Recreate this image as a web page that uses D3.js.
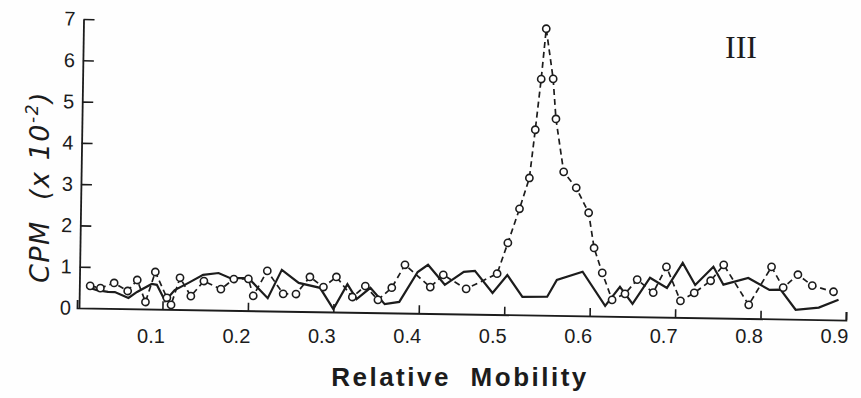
<!DOCTYPE html>
<html><head><meta charset="utf-8">
<script src="https://cdn.jsdelivr.net/npm/d3@7"></script>
<style>html,body{margin:0;padding:0;background:#fff}</style>
</head><body><svg id="c" width="861" height="398"></svg>
<script>
// Solid line (no markers)
const solidX = [0.011,0.023,0.036,0.044,0.060,0.070,0.087,0.093,0.103,0.114,0.130,0.147,0.165,0.179,0.200,0.223,0.239,0.259,0.284,0.300,0.316,0.327,0.343,0.360,0.377,0.398,0.410,0.430,0.452,0.465,0.486,0.503,0.521,0.550,0.561,0.591,0.618,0.635,0.650,0.670,0.690,0.708,0.723,0.744,0.756,0.785,0.810,0.823,0.841,0.868,0.891];
const solidY = [0.51,0.44,0.40,0.40,0.26,0.41,0.61,0.59,0.20,0.47,0.65,0.85,0.90,0.78,0.79,0.31,1.00,0.69,0.58,0.07,0.68,0.32,0.60,0.21,0.27,1.00,1.18,0.70,1.02,1.05,0.52,0.96,0.44,0.45,0.86,1.07,0.25,0.72,0.31,0.95,0.71,1.32,0.79,1.24,0.81,0.98,0.70,0.71,0.23,0.29,0.49];
// Dashed line with open circles
const dashX = [0.015,0.027,0.043,0.059,0.070,0.080,0.091,0.105,0.110,0.120,0.133,0.148,0.168,0.183,0.200,0.206,0.222,0.241,0.256,0.272,0.288,0.303,0.322,0.337,0.352,0.368,0.383,0.413,0.428,0.455,0.491,0.503,0.516,0.527,0.533,0.539,0.544,0.553,0.557,0.567,0.582,0.597,0.604,0.614,0.626,0.641,0.655,0.674,0.689,0.706,0.722,0.741,0.756,0.786,0.812,0.826,0.843,0.860,0.885];
const dashY = [0.54,0.49,0.62,0.43,0.70,0.17,0.90,0.28,0.11,0.77,0.33,0.70,0.51,0.76,0.77,0.36,0.97,0.42,0.42,0.84,0.60,0.85,0.37,0.64,0.31,0.61,1.17,0.64,0.94,0.61,0.99,1.74,2.57,3.32,4.49,5.72,6.94,5.73,4.76,3.48,3.10,2.50,1.65,1.05,0.40,0.55,0.90,0.59,1.22,0.40,0.60,0.90,1.29,0.33,1.26,0.76,1.08,0.82,0.68];
const xTickValues = [0.1,0.2,0.3,0.4,0.5,0.6,0.7,0.8,0.9];
const yTickValues = [0,1,2,3,4,5,6,7];
const titleText = "III";
const xLabelText = "Relative Mobility";

const W = 861, H = 398, ink = "#1c1c1c";
const svg = d3.select("#c");
svg.append("rect").attr("width", W).attr("height", H).attr("fill", "#fefefe");

const x = d3.scaleLinear().domain([0, 0.9]).range([77, 846]);
const y = d3.scaleLinear().domain([0, 7]).range([308, 19]);

// plot group slightly rotated like the scanned original
const g = svg.append("g").attr("transform", "rotate(0.9,80,308)");

const xa = g.append("g").attr("transform", "translate(0,308)")
  .call(d3.axisBottom(x).tickValues(xTickValues).tickSizeInner(-8).tickSizeOuter(-8).tickFormat(""));
xa.select(".domain").attr("stroke", ink).attr("stroke-width", 1.8);
xa.selectAll(".tick line").attr("stroke", ink).attr("stroke-width", 1.6);

const ya = g.append("g").attr("transform", "translate(79,0)")
  .call(d3.axisLeft(y).tickValues(yTickValues).tickSizeInner(-11).tickSizeOuter(0).tickPadding(8).tickFormat(d3.format("d")));
ya.select(".domain").attr("stroke", ink).attr("stroke-width", 1.8);
ya.selectAll(".tick line").attr("stroke", ink).attr("stroke-width", 1.6);
ya.selectAll(".tick text").attr("fill", ink).attr("font-family", "Liberation Sans, Arial, sans-serif").attr("font-size", 20);
ya.select(".tick:first-of-type line").remove();

const solid = solidX.map((v, i) => [v, solidY[i]]);
const dashed = dashX.map((v, i) => [v, dashY[i]]);
const line = d3.line().x(d => x(d[0])).y(d => y(d[1]));

g.append("path").attr("d", line(solid)).attr("fill", "none").attr("stroke", ink)
  .attr("stroke-width", 2.2).attr("stroke-linejoin", "miter");
g.append("path").attr("d", line(dashed)).attr("fill", "none").attr("stroke", ink)
  .attr("stroke-width", 1.7).attr("stroke-dasharray", "6,4");
g.selectAll("circle.pt").data(dashed).join("circle").attr("class", "pt")
  .attr("cx", d => x(d[0])).attr("cy", d => y(d[1])).attr("r", 3.6)
  .attr("fill", "#fff").attr("stroke", ink).attr("stroke-width", 1.6);

// x tick labels (horizontal, set a little left of ticks as in the original)
const xl = svg.append("g").attr("transform", "translate(-12,329)")
  .call(d3.axisBottom(x).tickValues(xTickValues).tickSize(0).tickPadding(0).tickFormat(d3.format(".1f")));
xl.select(".domain").remove();
xl.selectAll(".tick text").attr("fill", ink).attr("font-family", "Liberation Sans, Arial, sans-serif").attr("font-size", 20);

// title
svg.append("text").attr("x", 741).attr("y", 58).attr("text-anchor", "middle")
  .attr("font-family", "Liberation Serif, Times New Roman, serif").attr("font-size", 32)
  .attr("fill", ink).text(titleText);

// y label
const yl = svg.append("text").attr("transform", "translate(49,187) rotate(-90)")
  .attr("text-anchor", "middle").attr("font-family", "DejaVu Sans, sans-serif")
  .attr("font-style", "italic").attr("font-size", 27).attr("fill", ink).attr("letter-spacing", 1.5);
yl.append("tspan").text("CPM  (x 10").attr("style", "white-space:pre");
yl.append("tspan").attr("dy", -11).attr("font-size", 17).text("-2");
yl.append("tspan").attr("dy", 11).text(")");

// x label
svg.append("text").attr("x", 460).attr("y", 386).attr("text-anchor", "middle")
  .attr("font-family", "Liberation Sans, Arial, sans-serif").attr("font-weight", "bold")
  .attr("font-size", 26).attr("letter-spacing", 2.5).attr("word-spacing", 10)
  .attr("fill", ink).text(xLabelText);
</script></body></html>
